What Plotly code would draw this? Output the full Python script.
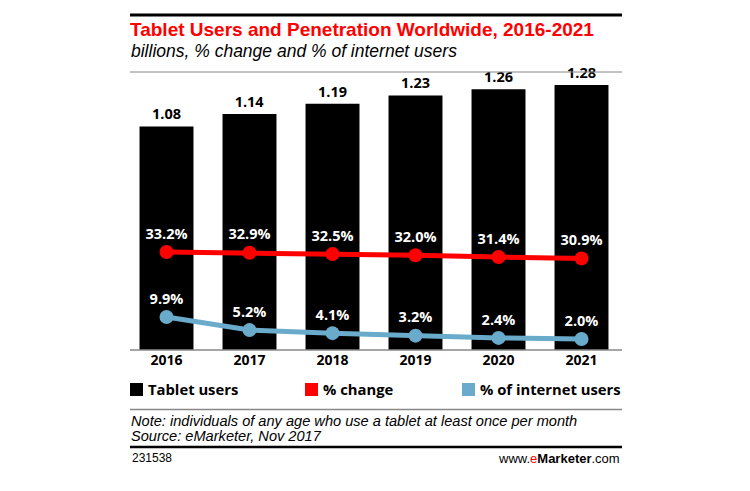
import plotly.graph_objects as go

years = ["2016", "2017", "2018", "2019", "2020", "2021"]
tablet_users = [1.08, 1.14, 1.19, 1.23, 1.26, 1.28]
pct_change = [33.2, 32.9, 32.5, 32.0, 31.4, 30.9]
pct_internet = [9.9, 5.2, 4.1, 3.2, 2.4, 2.0]

W, H = 750, 491
RED = "#FF0000"
BLUE = "#6AABCB"
LBL = "Open Sans"
TXT = "Liberation Sans"

def px(x):
    return x / W

def py(y):
    return 1 - y / H

fig = go.Figure()
fig.add_trace(go.Bar(
    x=years, y=tablet_users, marker=dict(color="black", line=dict(width=0)),
    text=[f"{v:.2f}" for v in tablet_users], textposition="outside",
    textfont=dict(family=LBL, size=14.5, color="black", weight="bold"),
    cliponaxis=False, showlegend=False, name="Tablet users"))
fig.add_trace(go.Scatter(
    x=years, y=pct_change, yaxis="y2", mode="lines+markers+text",
    line=dict(color=RED, width=5), marker=dict(color=RED, size=14),
    text=[f"{v:.1f}%" for v in pct_change], textposition="top center",
    textfont=dict(family=LBL, size=14.5, color="white", weight="bold"),
    cliponaxis=False, showlegend=False, name="% change"))
fig.add_trace(go.Scatter(
    x=years, y=pct_internet, yaxis="y2", mode="lines+markers+text",
    line=dict(color=BLUE, width=5), marker=dict(color=BLUE, size=14),
    text=[f"{v:.1f}%" for v in pct_internet], textposition="top center",
    textfont=dict(family=LBL, size=14.5, color="white", weight="bold"),
    cliponaxis=False, showlegend=False, name="% of internet users"))

shapes = [
    dict(type="line", xref="paper", yref="paper", x0=px(130), x1=px(622), y0=py(15), y1=py(15),
         line=dict(color="black", width=3)),
    dict(type="line", xref="paper", yref="paper", x0=px(130), x1=px(622), y0=py(72), y1=py(72),
         line=dict(color="#888888", width=1)),
    dict(type="line", xref="paper", yref="paper", x0=px(130), x1=px(622), y0=py(350), y1=py(350),
         line=dict(color="#888888", width=1.5)),
    dict(type="line", xref="paper", yref="paper", x0=px(130), x1=px(622), y0=py(409.5), y1=py(409.5),
         line=dict(color="#888888", width=1.5)),
    dict(type="line", xref="paper", yref="paper", x0=px(130), x1=px(622), y0=py(447), y1=py(447),
         line=dict(color="black", width=2.5)),
]
legend_items = [("Tablet users", "black", 130), ("% change", RED, 305), ("% of internet users", BLUE, 462)]
annotations = []
for name, col, x0 in legend_items:
    shapes.append(dict(type="rect", xref="paper", yref="paper", x0=px(x0), x1=px(x0 + 13),
                       y0=py(383), y1=py(396), fillcolor=col, line=dict(width=0)))
    annotations.append(dict(text=name, xref="paper", yref="paper", x=px(x0 + 16), y=py(389),
                            xanchor="left", yanchor="middle", showarrow=False,
                            font=dict(family=LBL, size=14.8, color="black", weight="bold")))

annotations += [
    dict(text="Tablet Users and Penetration Worldwide, 2016-2021", xref="paper", yref="paper",
         x=px(128), y=py(30), xanchor="left", yanchor="middle", showarrow=False,
         font=dict(family=TXT, size=19, color=RED, weight="bold")),
    dict(text="<i>billions, % change and % of internet users</i>", xref="paper", yref="paper",
         x=px(129), y=py(51), xanchor="left", yanchor="middle", showarrow=False,
         font=dict(family=TXT, size=17.5, color="black")),
    dict(text="<i>Note: individuals of any age who use a tablet at least once per month</i>",
         xref="paper", yref="paper", x=px(129), y=py(420.5), xanchor="left", yanchor="middle",
         showarrow=False, font=dict(family=TXT, size=14.6, color="black")),
    dict(text="<i>Source: eMarketer, Nov 2017</i>",
         xref="paper", yref="paper", x=px(129), y=py(436), xanchor="left", yanchor="middle",
         showarrow=False, font=dict(family=TXT, size=14.6, color="black")),
    dict(text="231538", xref="paper", yref="paper", x=px(130), y=py(458), xanchor="left",
         yanchor="middle", showarrow=False, font=dict(family=TXT, size=12, color="black")),
    dict(text="www.<span style='color:#FF0000'>e</span><b>Marketer</b>.com", xref="paper", yref="paper",
         x=px(622), y=py(458), xanchor="right", yanchor="middle", showarrow=False,
         font=dict(family=TXT, size=13, color="black")),
]

top, bottom = 75, 350
ppb = 207.0  # px per billion
ppp = 2.79   # px per percent
zero2 = 344.6
fig.update_layout(
    width=W, height=H, autosize=False, margin=dict(l=0, r=0, t=0, b=0),
    paper_bgcolor="white", plot_bgcolor="white", bargap=0.35,
    xaxis=dict(domain=[px(125), px(623)], showgrid=False, showline=False, zeroline=False,
               ticks="", tickfont=dict(family=LBL, size=14, color="black", weight="bold"),
               fixedrange=True),
    yaxis=dict(domain=[py(bottom), py(top)], range=[0, (bottom - top) / ppb], visible=False,
               showgrid=False, zeroline=False),
    yaxis2=dict(overlaying="y", range=[-(bottom - zero2) / ppp, (zero2 - top) / ppp],
                visible=False, showgrid=False, zeroline=False),
    shapes=shapes, annotations=annotations, showlegend=False,
)
fig.write_html("out.html")
